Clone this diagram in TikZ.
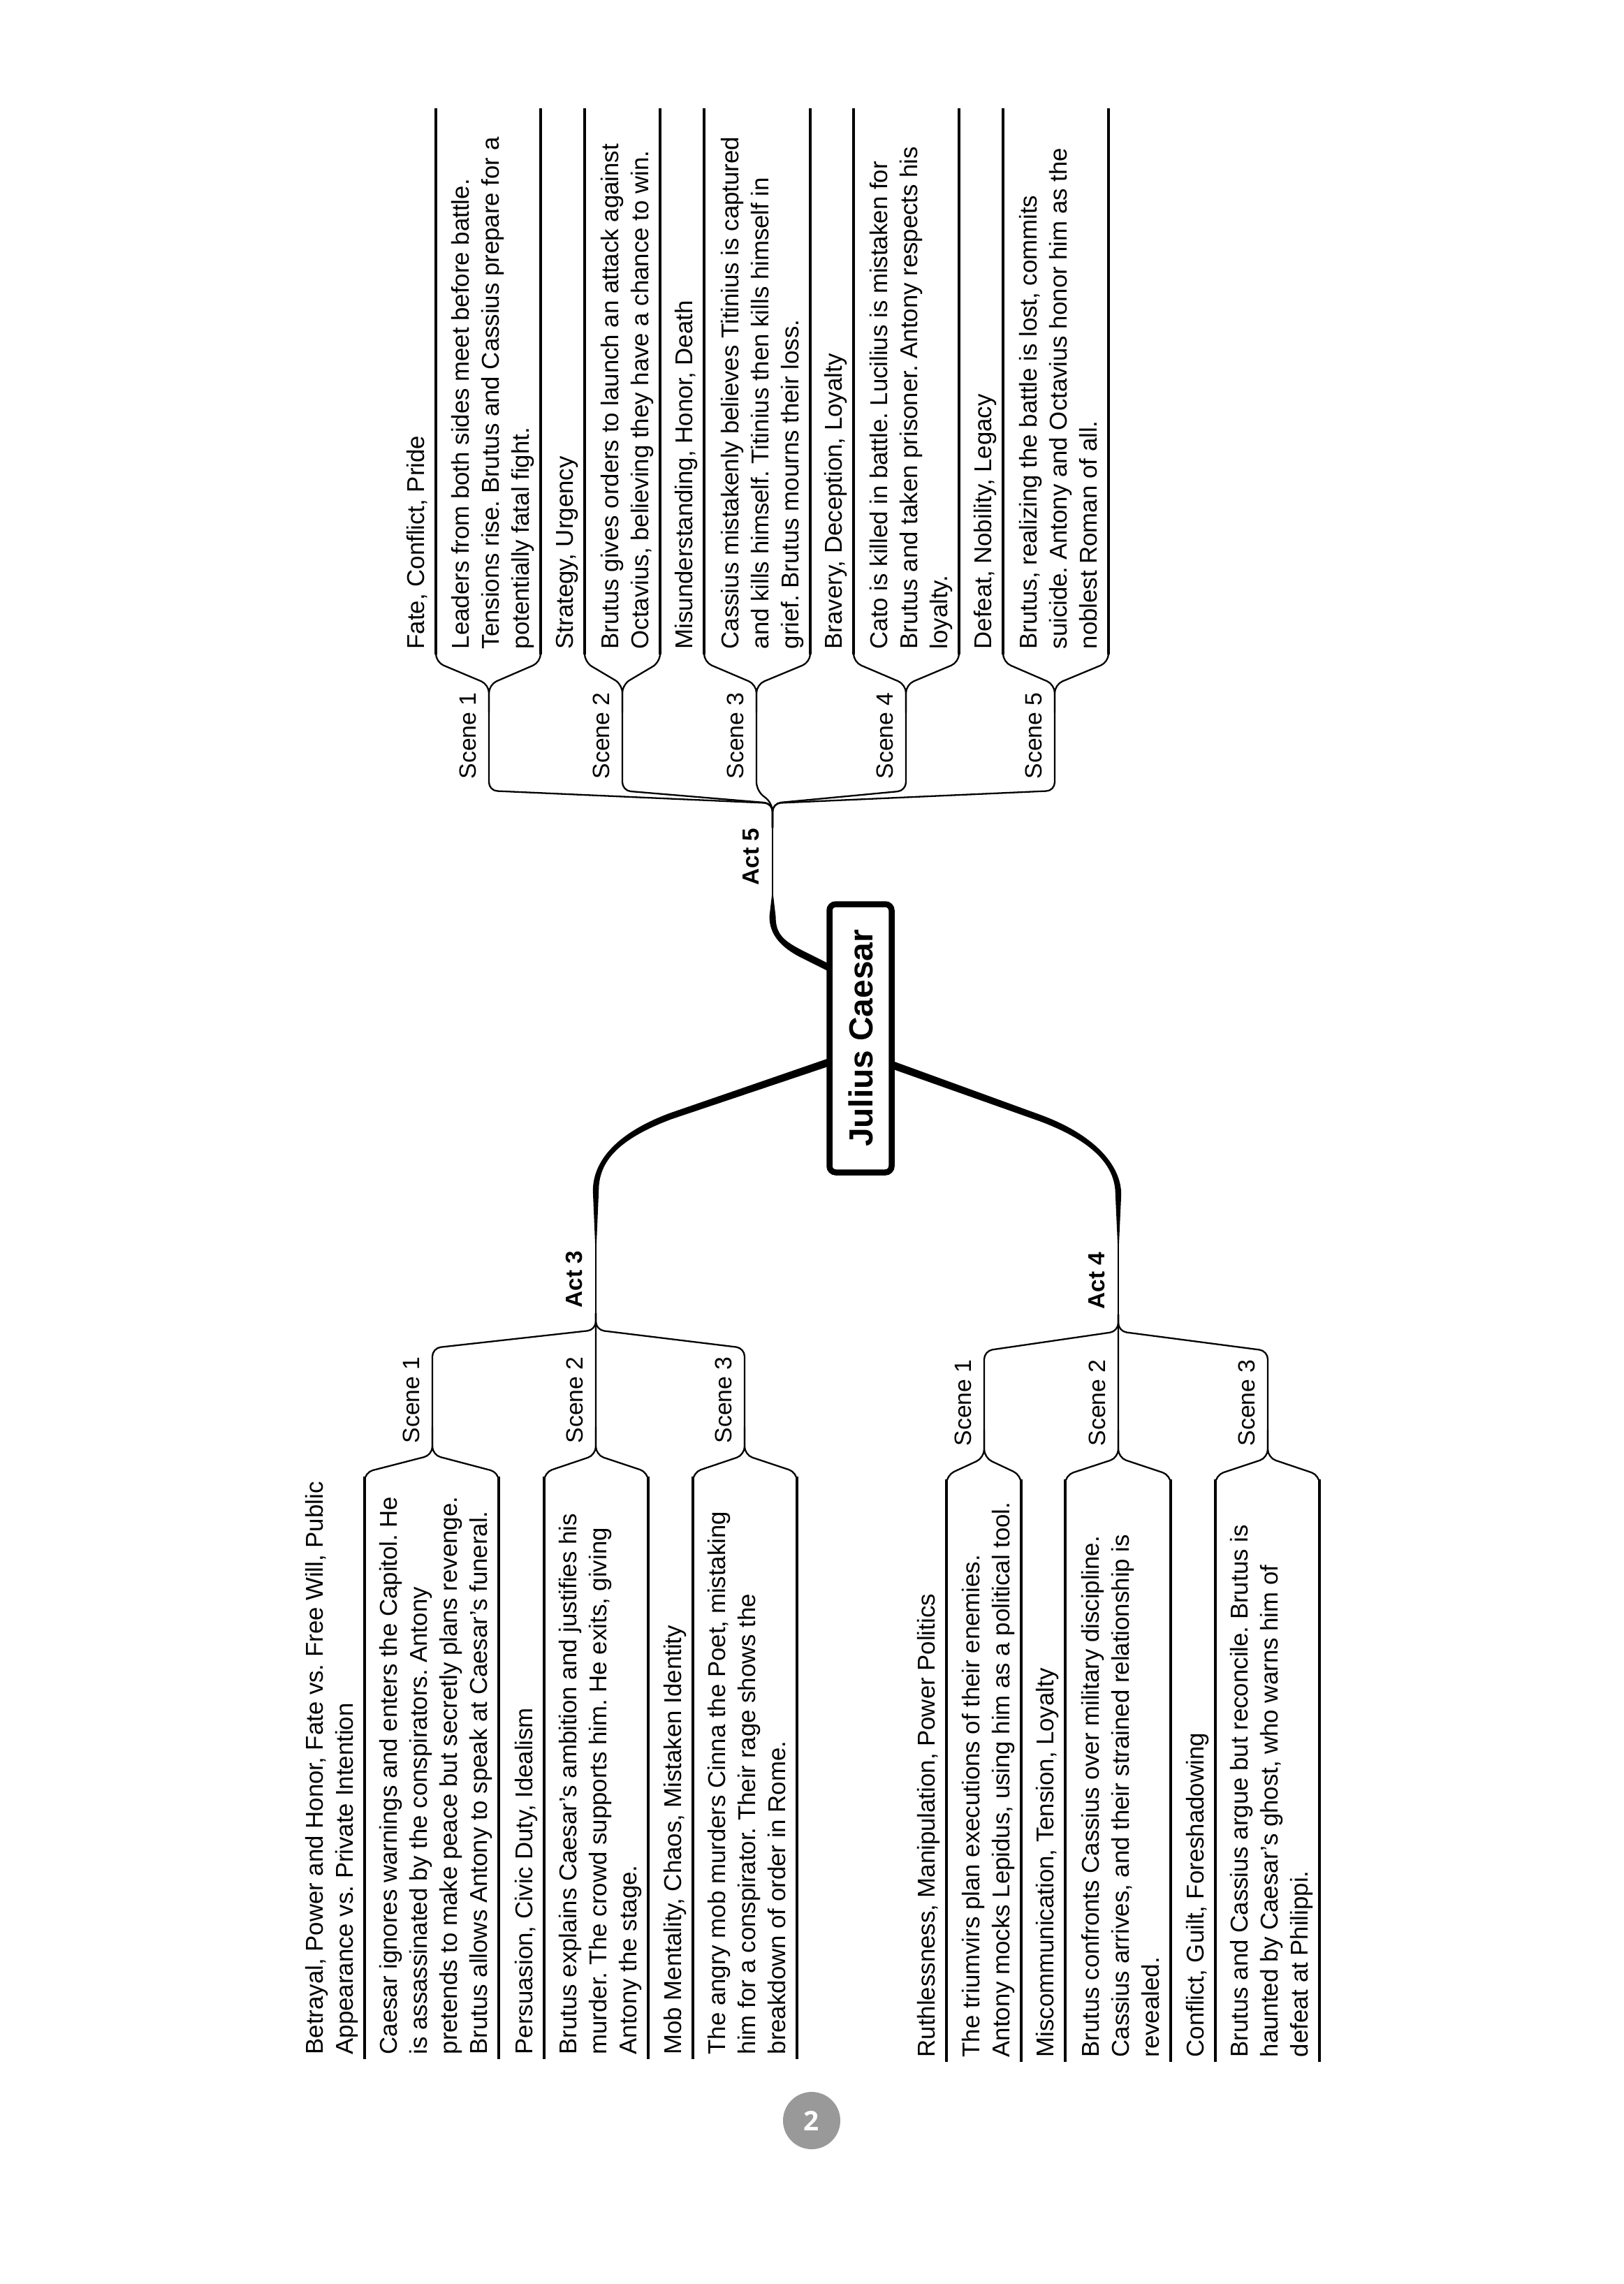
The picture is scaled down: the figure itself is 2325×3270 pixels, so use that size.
\documentclass[tikz,border=0pt]{standalone}
\usepackage{fontspec}
\setmainfont{Liberation Sans}
\newfontfamily\pagefont{Open Sans}
\usetikzlibrary{calc}
\pgfdeclarelayer{bg}
\pgfsetlayers{bg,main}
\definecolor{pagegray}{HTML}{999999}
\frenchspacing
\newcommand\dstrut{\rule[-2.1pt]{0pt}{2.1pt}}
\tikzset{
  conn/.style={line width=0.23mm, rounded corners=1.2mm, line join=round},
  uline/.style={line width=0.38mm},
  stemline/.style={line width=0.25mm},
  txt/.style={rotate=90, inner sep=0pt, align=left, anchor=south west,
    font=\fontsize{9.9}{12.24}\selectfont},
  lbl/.style={txt, font=\fontsize{9.6}{12}\selectfont},
  actlbl/.style={txt, font=\fontsize{9.5}{12}\selectfont\bfseries},
  rootbox/.style={rotate=90, draw, line width=0.85mm, rounded corners=0.9mm,
    fill=white, minimum width=38.4mm, minimum height=8.9mm, inner sep=0pt,
    font=\fontsize{13.6}{16}\selectfont\bfseries},
  pagenum/.style={circle, fill=pagegray, minimum size=8.2mm, inner sep=0pt,
    text=white, font=\pagefont\bfseries\fontsize{11}{13}\selectfont}
}
% tapered branch: prefix, half widths h0 h1 h2 h3
\newcommand\taper[5]{%
  \fill ($(#1p0)!#2!-90:(#1p1)$) -- ($(#1p1)!#3!90:(#1p0)$)
    .. controls ($(#1c1)!#3!90:(#1p1)$) and ($(#1c2)!#4!-90:(#1p2)$) ..
    ($(#1p2)!#4!90:(#1c2)$) -- ($(#1p3)!#5!90:(#1p2)$)
    -- ($(#1p3)!#5!-90:(#1p2)$) -- ($(#1p2)!#4!-90:(#1c2)$)
    .. controls ($(#1c2)!#4!90:(#1p2)$) and ($(#1c1)!#3!-90:(#1p1)$) ..
    ($(#1p1)!#3!-90:(#1p0)$) -- ($(#1p0)!#2!90:(#1p1)$) -- cycle;}
% scene of Act 5 (tree growing upward in the image)
\newcommand\upscene[7]{%
  \coordinate (#1s) at (#2,1132);
  \coordinate (#1f) at (#2,980);
  \coordinate (#1t) at (#3,937);
  \coordinate (#1d) at (#4,937);
  \coordinate (#1te) at (#3,155);
  \coordinate (#1de) at (#4,155);
  \draw[conn] (J5) -- (J5c) -- (#1s) -- (#1f) -- ($(#1t)+(0,11)$) -- ($(#1t)+(0,-40)$);
  \draw[conn] ($(#1f)+(0,40)$) -- (#1f) -- ($(#1d)+(0,11)$) -- ($(#1d)+(0,-40)$);
  \draw[uline] (#1t) -- (#1te);
  \draw[uline] (#1d) -- (#1de);
  \node[lbl] (#1lab) at (#2-10,1116) {#5\dstrut};
  \node[txt] (#1th) at (#3-8.5,930) {#6\dstrut};
  \node[txt] (#1ds) at (#4-8.5,930) {#7\dstrut};
}
% scene of Acts 3 and 4 (tree growing downward in the image)
\newcommand\downscene[9]{%
  \coordinate (#1s) at (#3,1930+#9);
  \coordinate (#1f) at (#3,2083+#9);
  \coordinate (#1t) at (#4,2114+#9);
  \coordinate (#1d) at (#5,2114+#9);
  \coordinate (#1te) at (#4,2948+#9);
  \coordinate (#1de) at (#5,2948+#9);
  \draw[conn] (J#2) -- (J#2c) -- (#1s) -- (#1f) -- ($(#1t)+(0,-6)$) -- ($(#1t)+(0,40)$);
  \draw[conn] ($(#1f)+(0,-40)$) -- (#1f) -- ($(#1d)+(0,-6)$) -- ($(#1d)+(0,40)$);
  \draw[uline] (#1t) -- (#1te);
  \draw[uline] (#1d) -- (#1de);
  \node[lbl] (#1lab) at (#3-10,2067+#9) {#6\dstrut};
  \node[txt] (#1th) at (#4-8.5,2942+#9) {#7\dstrut};
  \node[txt] (#1ds) at (#5-8.5,2942+#9) {#8\dstrut};
}
\begin{document}
\begin{tikzpicture}[x=0.1mm,y=-0.1mm]
\begin{pgfonlayer}{bg}
  \fill[white] (0,0) rectangle (2325,3270);
\end{pgfonlayer}
\useasboundingbox (0,0) rectangle (2325,3270);

% ---------- junctions ----------
\coordinate (J3) at (853,1880);  \coordinate (J3c) at (853,1904);
\coordinate (J4) at (1601,1882); \coordinate (J4c) at (1601,1906);
\coordinate (J5) at (1106,1185); \coordinate (J5c) at (1106,1150);

% ---------- tapered main branches ----------
\coordinate (a3p0) at (1195,1518); \coordinate (a3p1) at (960,1598);
\coordinate (a3c1) at (880,1628);  \coordinate (a3c2) at (853,1665);
\coordinate (a3p2) at (853,1705);  \coordinate (a3p3) at (853,1780);
\coordinate (a4p0) at (1270,1522); \coordinate (a4p1) at (1490,1601);
\coordinate (a4c1) at (1565,1629); \coordinate (a4c2) at (1601,1668);
\coordinate (a4p2) at (1601,1710); \coordinate (a4p3) at (1601,1780);
\coordinate (a5p0) at (1200,1392); \coordinate (a5p1) at (1150,1367);
\coordinate (a5c1) at (1120,1352); \coordinate (a5c2) at (1106,1338);
\coordinate (a5p2) at (1106,1312); \coordinate (a5p3) at (1106,1282);
\begin{pgfonlayer}{bg}
  \taper{a3}{0.55mm}{0.45mm}{0.42mm}{0.1mm}
  \taper{a4}{0.55mm}{0.45mm}{0.42mm}{0.1mm}
  \taper{a5}{0.5mm}{0.5mm}{0.45mm}{0.1mm}
\end{pgfonlayer}
\draw[stemline] (a3p3) -- (J3);
\draw[stemline] (a4p3) -- (J4);
\draw[stemline] (a5p3) -- (J5);

% ---------- root ----------
\node[rootbox] (root) at (1232,1486.5) {Julius Caesar};

% ---------- act labels ----------
\node[actlbl] (act3) at (842,1873) {Act 3\dstrut};
\node[actlbl] (act4) at (1590,1875) {Act 4\dstrut};
\node[actlbl] (act5) at (1095,1268) {Act 5\dstrut};

% ---------- Act 3 ----------
\downscene{a3s1}{3}{619}{522}{714}{Scene 1}
  {Betrayal, Power and Honor, Fate vs. Free Will, Public\\Appearance vs. Private Intention}
  {Caesar ignores warnings and enters the Capitol. He\\is assassinated by the conspirators. Antony\\pretends to make peace but secretly plans revenge.\\Brutus allows Antony to speak at Caesar’s funeral.}{0}
\downscene{a3s2}{3}{853}{779}{928}{Scene 2}
  {Persuasion, Civic Duty, Idealism}
  {Brutus explains Caesar’s ambition and justifies his\\murder. The crowd supports him. He exits, giving\\Antony the stage.}{0}
\downscene{a3s3}{3}{1066}{992}{1141}{Scene 3}
  {Mob Mentality, Chaos, Mistaken Identity}
  {The angry mob murders Cinna the Poet, mistaking\\him for a conspirator. Their rage shows the\\breakdown of order in Rome.}{0}

% ---------- Act 4 ----------
\downscene{a4s1}{4}{1409}{1355}{1462}{Scene 1}
  {Ruthlessness, Manipulation, Power Politics}
  {The triumvirs plan executions of their enemies.\\Antony mocks Lepidus, using him as a political tool.}{4}
\downscene{a4s2}{4}{1601}{1525}{1676}{Scene 2}
  {Miscommunication, Tension, Loyalty}
  {Brutus confronts Cassius over military discipline.\\Cassius arrives, and their strained relationship is\\revealed.}{4}
\downscene{a4s3}{4}{1815}{1740}{1889}{Scene 3}
  {Conflict, Guilt, Foreshadowing}
  {Brutus and Cassius argue but reconcile. Brutus is\\haunted by Caesar’s ghost, who warns him of\\defeat at Philippi.}{4}

% ---------- Act 5 ----------
\upscene{a5s1}{700}{624}{774}{Scene 1}
  {Fate, Conflict, Pride}
  {Leaders from both sides meet before battle.\\Tensions rise. Brutus and Cassius prepare for a\\potentially fatal fight.}
\upscene{a5s2}{891}{837}{945}{Scene 2}
  {Strategy, Urgency}
  {Brutus gives orders to launch an attack against\\Octavius, believing they have a chance to win.}
\upscene{a5s3}{1083}{1008}{1160}{Scene 3}
  {Misunderstanding, Honor, Death}
  {Cassius mistakenly believes Titinius is captured\\and kills himself. Titinius then kills himself in\\grief. Brutus mourns their loss.}
\upscene{a5s4}{1297}{1222}{1373}{Scene 4}
  {Bravery, Deception, Loyalty}
  {Cato is killed in battle. Lucilius is mistaken for\\Brutus and taken prisoner. Antony respects his\\loyalty.}
\upscene{a5s5}{1510}{1436}{1587}{Scene 5}
  {Defeat, Nobility, Legacy}
  {Brutus, realizing the battle is lost, commits\\suicide. Antony and Octavius honor him as the\\noblest Roman of all.}

% ---------- page number ----------
\node[pagenum] (pg) at (1162,3036) {2};
\end{tikzpicture}
\end{document}
